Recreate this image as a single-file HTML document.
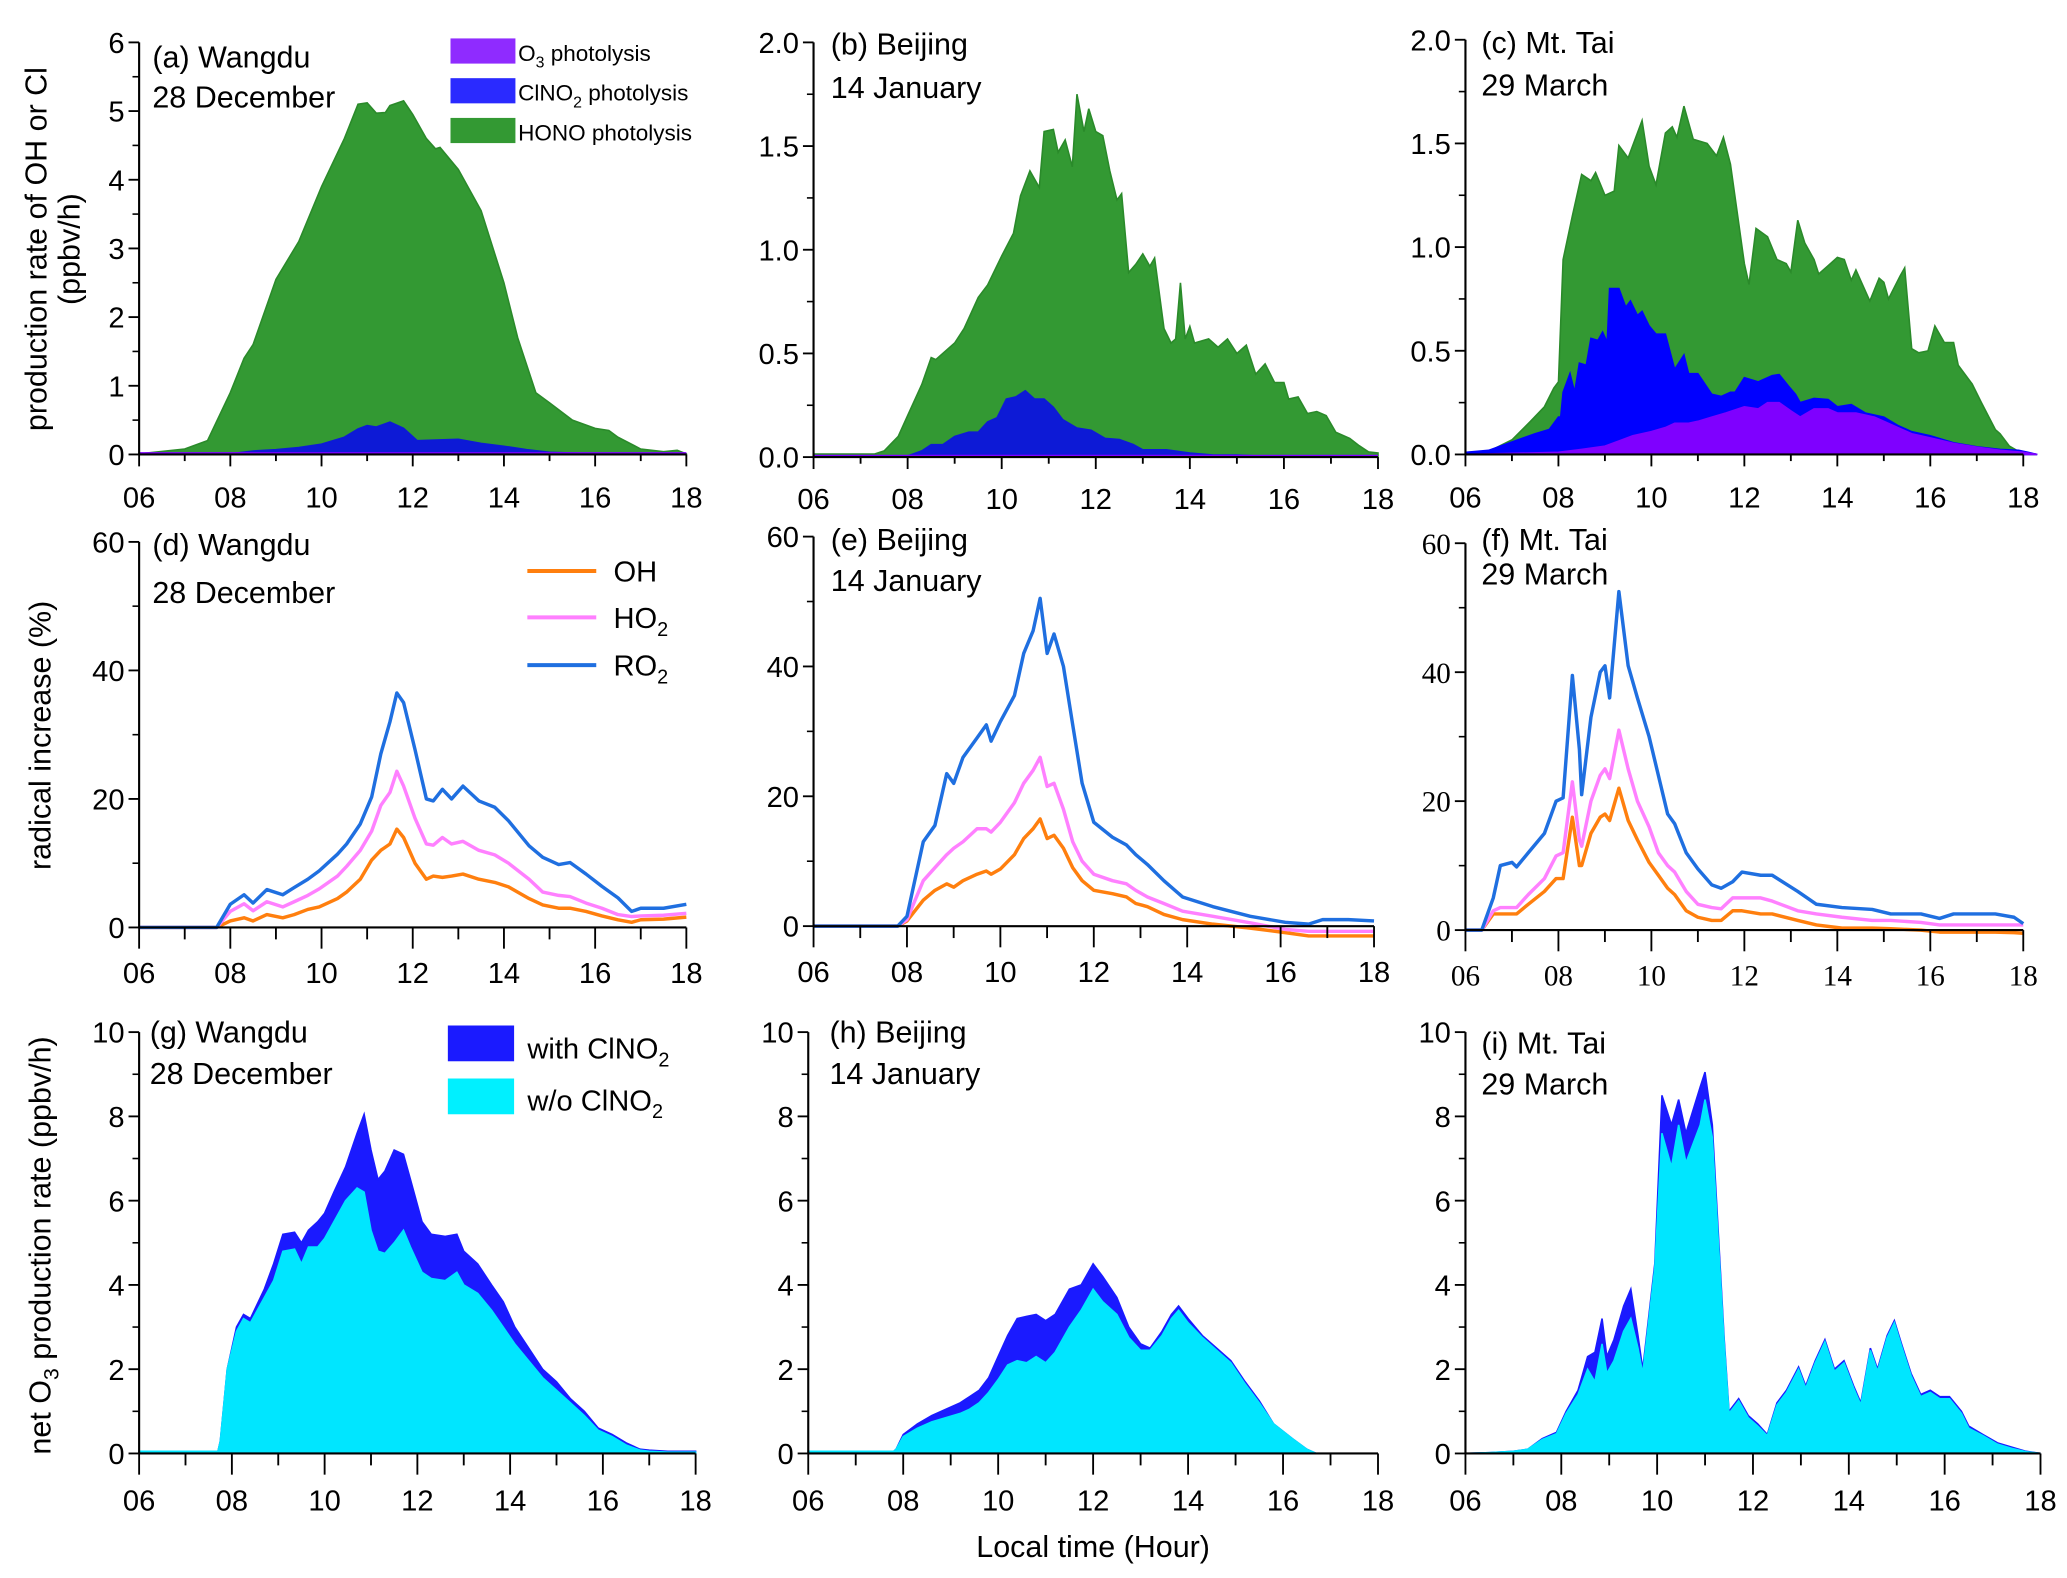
<!DOCTYPE html>
<html><head><meta charset="utf-8">
<style>
html,body{margin:0;padding:0;background:#fff;}
svg{display:block;}
text{font-family:"Liberation Sans",Arial,sans-serif;fill:#000;}
.serif{font-family:"Liberation Serif","Times New Roman",serif;}
</style></head>
<body>
<svg id="fig" width="2067" height="1578" viewBox="0 0 1560 1191" preserveAspectRatio="none" xmlns="http://www.w3.org/2000/svg">
<g id="root"></g>
</svg>
<script>
// ---------- data: panel (a) Wangdu ----------
const aHours = [6,7,7.5,8,8.3,8.5,9,9.5,10,10.5,10.8,11,11.2,11.4,11.5,11.8,12,12.3,12.5,12.6,13,13.5,14,14.3,14.7,15,15.5,16,16.3,16.5,17,17.5,17.8,18];
const aHono = [0.01,0.08,0.2,0.9,1.4,1.6,2.55,3.1,3.9,4.6,5.1,5.12,4.97,4.98,5.08,5.15,4.95,4.6,4.45,4.47,4.15,3.55,2.5,1.7,0.9,0.75,0.5,0.38,0.35,0.25,0.08,0.04,0.06,0.01];
const aClHours = [6,8,8.5,9,9.5,10,10.5,10.8,11,11.2,11.5,11.8,12.1,12.5,13,13.5,14,14.5,15,16,18];
const aClno2 = [0.01,0.01,0.05,0.07,0.1,0.15,0.25,0.37,0.42,0.4,0.47,0.38,0.2,0.21,0.22,0.16,0.12,0.07,0.03,0.01,0];
// ---------- panel (b) Beijing ----------
const bHours = [6,7.3,7.5,7.8,8,8.3,8.5,8.6,9,9.2,9.5,9.7,10,10.25,10.4,10.6,10.8,10.9,11.1,11.2,11.35,11.5,11.6,11.75,11.85,12,12.15,12.3,12.45,12.55,12.7,12.85,13,13.15,13.25,13.45,13.6,13.7,13.8,13.9,14,14.1,14.4,14.6,14.8,15,15.2,15.4,15.6,15.8,16,16.1,16.3,16.5,16.7,16.9,17.1,17.4,17.6,17.8,18];
const bHono = [0.015,0.015,0.03,0.1,0.2,0.35,0.48,0.47,0.55,0.62,0.77,0.83,0.97,1.08,1.26,1.38,1.30,1.57,1.58,1.47,1.53,1.40,1.75,1.57,1.68,1.57,1.55,1.38,1.24,1.27,0.89,0.93,0.98,0.92,0.96,0.62,0.55,0.57,0.84,0.57,0.63,0.55,0.57,0.53,0.57,0.5,0.54,0.40,0.45,0.36,0.36,0.28,0.29,0.21,0.22,0.20,0.12,0.09,0.055,0.025,0.02];
const bClHours = [6,8,8.3,8.5,8.75,9,9.3,9.5,9.7,9.9,10.1,10.3,10.5,10.7,10.9,11.1,11.3,11.6,11.9,12.2,12.5,12.8,13,13.5,14,14.5,15,16,18];
const bClno2 = [0,0.005,0.03,0.06,0.06,0.1,0.12,0.12,0.17,0.19,0.28,0.29,0.32,0.28,0.28,0.24,0.18,0.14,0.13,0.09,0.085,0.06,0.035,0.035,0.02,0.01,0.01,0,0];
// ---------- panel (c) Mt. Tai ----------
const cHours = [6,6.5,7,7.4,7.7,7.9,8,8.1,8.3,8.5,8.7,8.8,9,9.2,9.3,9.5,9.7,9.8,9.95,10.1,10.3,10.45,10.55,10.7,10.9,11.2,11.4,11.55,11.7,12,12.1,12.25,12.5,12.7,12.9,13,13.15,13.3,13.5,13.6,13.8,14,14.15,14.3,14.4,14.7,14.9,15,15.1,15.35,15.45,15.6,15.75,15.95,16.1,16.3,16.5,16.6,16.9,17.1,17.4,17.5,17.7,17.9,18,18.3];
const cHono = [0.01,0.015,0.07,0.16,0.23,0.32,0.35,0.94,1.15,1.35,1.32,1.36,1.25,1.27,1.49,1.43,1.55,1.61,1.39,1.30,1.55,1.58,1.53,1.68,1.52,1.50,1.44,1.53,1.40,0.92,0.82,1.09,1.05,0.94,0.92,0.88,1.13,1.02,0.94,0.87,0.91,0.95,0.94,0.84,0.89,0.74,0.85,0.83,0.75,0.86,0.90,0.51,0.49,0.50,0.62,0.54,0.54,0.43,0.34,0.25,0.12,0.10,0.04,0.015,0.01,0];
const cClHours = [6,6.5,7,7.5,7.8,8,8.05,8.1,8.25,8.35,8.45,8.6,8.7,8.85,8.95,9.05,9.1,9.3,9.45,9.55,9.7,9.8,9.95,10.1,10.3,10.5,10.7,10.8,11,11.3,11.5,11.7,11.8,12,12.3,12.6,12.75,12.95,13.1,13.2,13.5,13.8,14,14.3,14.6,15,15.3,15.6,16,16.5,17,17.5,17.9,18.1,18.3];
const cClno2 = [0.01,0.02,0.06,0.1,0.12,0.18,0.18,0.3,0.39,0.3,0.44,0.43,0.56,0.55,0.59,0.54,0.80,0.80,0.71,0.74,0.67,0.69,0.62,0.58,0.58,0.41,0.48,0.39,0.39,0.29,0.28,0.30,0.30,0.37,0.35,0.38,0.385,0.33,0.29,0.25,0.27,0.265,0.23,0.24,0.2,0.18,0.14,0.11,0.09,0.056,0.037,0.024,0.02,0.01,0];
const cO3Hours = [6,8,8.5,9,9.3,9.6,10,10.3,10.5,10.8,11,11.3,11.6,12,12.3,12.5,12.75,13,13.2,13.5,13.8,14,14.4,14.8,15.2,15.6,16,16.5,17,17.5,18,18.3];
const cO3 = [0,0.01,0.024,0.04,0.065,0.09,0.11,0.13,0.15,0.15,0.16,0.18,0.2,0.23,0.22,0.25,0.25,0.21,0.18,0.22,0.22,0.2,0.2,0.18,0.14,0.10,0.08,0.053,0.035,0.02,0.01,0];
// ---------- panel (d) Wangdu radicals ----------
const dHours = [6,7.7,8,8.3,8.5,8.8,9.15,9.4,9.7,9.95,10.35,10.55,10.85,11.1,11.3,11.5,11.65,11.8,12.05,12.3,12.45,12.65,12.85,13.1,13.45,13.8,14.1,14.55,14.85,15.2,15.45,15.8,16.15,16.5,16.8,17,17.5,18];
const dRO2 = [0,0,3.6,5.1,3.8,5.9,5.1,6.2,7.5,8.8,11.4,13,16.1,20.3,27,32,36.5,35,27.7,20,19.7,21.5,20,22,19.7,18.7,16.6,12.7,10.9,9.8,10.1,8.3,6.4,4.6,2.5,3.0,3.0,3.6];
const dHO2 = [0,0,2.5,3.7,2.6,4,3.2,4,5,6,8,9.5,12,15,19,21,24.3,22,17,13,12.8,14,13,13.4,12,11.3,10,7.5,5.5,5,4.8,3.8,3,2,1.7,1.8,1.9,2.2];
const dOH = [0,0,1,1.5,1,2,1.5,2,2.8,3.2,4.5,5.5,7.5,10.5,12,13,15.3,14,10,7.5,8,7.8,8,8.3,7.5,7,6.3,4.5,3.5,3,3,2.5,1.8,1.2,0.8,1.2,1.3,1.6];
// ---------- panel (e) Beijing radicals ----------
const eHours = [6,7.8,8,8.35,8.6,8.85,9,9.2,9.5,9.7,9.8,10,10.3,10.5,10.7,10.85,11,11.15,11.35,11.55,11.75,12,12.4,12.7,12.9,13.15,13.5,13.9,14.55,15.35,16.1,16.6,16.9,17.45,18];
const eRO2 = [0,0,1.5,13,15.5,23.5,22,26,29,31,28.5,31.5,35.5,42,45.5,50.5,42,45,40,31,22,16,13.7,12.5,11,9.5,7,4.5,3,1.5,0.6,0.3,1,1,0.8];
const eHO2 = [0,0,1,7,9,11,12,13,15,15,14.5,16,19,22,24,26,21.5,22,18,13,10,8,7,6.5,5.5,4.5,3.5,2.3,1.5,0.5,-0.5,-0.8,-0.8,-0.8,-0.8];
const eOH = [0,0,0.8,4,5.5,6.5,6,7,8,8.5,8,8.8,11,13.5,15,16.5,13.5,14,12,9,7,5.5,5,4.5,3.5,3,1.8,1,0.3,-0.3,-1,-1.5,-1.5,-1.5,-1.5];
// ---------- panel (f) Mt. Tai radicals ----------
const fHours = [6,6.35,6.6,6.75,7,7.1,7.35,7.7,7.95,8.1,8.3,8.45,8.5,8.7,8.9,9,9.1,9.3,9.5,9.7,9.95,10.15,10.35,10.5,10.75,11,11.3,11.5,11.75,11.95,12.35,12.6,13.15,13.55,14.1,14.75,15.15,15.8,16.2,16.5,17.4,17.8,18];
const fRO2 = [0,0,5,10,10.5,9.8,12,15,20,20.5,39.5,28,21,33,40,41,36,52.5,41,36,30,24,18,16.5,12,9.5,7,6.5,7.5,9,8.5,8.5,6,4,3.5,3.2,2.5,2.5,1.8,2.5,2.5,2,1];
const fHO2 = [0,0,3,3.5,3.5,3.5,5.5,8,11.5,12,23,14,13,20,24,25,23.5,31,25,20,16,12,10,9,6,4,3.5,3.3,5,5,5,4.5,3,2.5,2,1.5,1.5,1.2,0.8,0.8,0.8,0.8,0.8];
const fOH = [0,0,2.5,2.5,2.5,2.5,4,6,8,8,17.5,10,10,15,17.5,18,17,22,17,14,10.5,8.5,6.5,5.5,3,2,1.5,1.5,3,3,2.5,2.5,1.5,0.8,0.3,0.3,0.2,0,-0.3,-0.3,-0.3,-0.4,-0.5];
// ---------- panel (g) Wangdu net O3 ----------
const gHours = [6,7.7,7.75,7.9,8.1,8.25,8.4,8.7,8.9,9.1,9.35,9.5,9.65,9.85,10,10.2,10.45,10.7,10.85,11,11.15,11.3,11.5,11.7,11.85,12.1,12.3,12.6,12.85,13,13.3,13.6,13.85,14.1,14.4,14.7,15,15.3,15.6,15.9,16.2,16.5,16.8,17,17.4,18];
const gWith = [0.05,0.05,0.3,2.0,3.0,3.3,3.2,3.9,4.5,5.2,5.25,5.0,5.3,5.5,5.7,6.2,6.8,7.6,8.05,7.2,6.5,6.7,7.2,7.1,6.5,5.5,5.2,5.15,5.2,4.8,4.5,4.0,3.6,3.0,2.5,2.0,1.7,1.3,1.0,0.6,0.45,0.25,0.1,0.08,0.05,0.05];
const gWithout = [0.05,0.05,0.3,2.0,2.9,3.2,3.1,3.7,4.1,4.8,4.85,4.5,4.9,4.9,5.1,5.5,6.0,6.3,6.2,5.3,4.8,4.75,5.0,5.3,4.9,4.3,4.15,4.1,4.3,4.0,3.8,3.4,3.0,2.6,2.2,1.8,1.5,1.2,0.9,0.55,0.4,0.2,0.08,0.05,0.03,0.03];
// ---------- panel (h) Beijing net O3 ----------
const hHours = [6,7.8,7.85,8,8.3,8.6,8.9,9.2,9.4,9.6,9.8,10,10.2,10.4,10.6,10.8,11,11.2,11.5,11.75,12,12.2,12.5,12.75,13,13.2,13.45,13.65,13.8,14,14.3,14.6,14.9,15.2,15.5,15.8,16.2,16.5,16.7,17,18];
const hWith = [0.05,0.05,0.1,0.45,0.7,0.9,1.05,1.2,1.35,1.5,1.8,2.3,2.8,3.2,3.25,3.3,3.15,3.3,3.9,4.0,4.5,4.2,3.7,3.0,2.6,2.5,2.9,3.3,3.5,3.2,2.8,2.5,2.2,1.7,1.25,0.7,0.35,0.1,0,0,0];
const hWithout = [0.05,0.05,0.1,0.4,0.6,0.75,0.85,0.95,1.05,1.2,1.45,1.75,2.1,2.2,2.15,2.3,2.15,2.4,3.0,3.4,3.9,3.6,3.3,2.75,2.45,2.45,2.8,3.2,3.4,3.1,2.75,2.45,2.15,1.65,1.2,0.7,0.35,0.1,0,0,0];
// ---------- panel (i) Mt. Tai net O3 ----------
const iHours = [6,6.5,7,7.3,7.6,7.9,8.1,8.35,8.55,8.7,8.85,8.95,9.1,9.3,9.45,9.6,9.7,9.95,10.1,10.3,10.45,10.6,10.9,11,11.15,11.4,11.5,11.7,11.9,12.1,12.3,12.5,12.7,12.95,13.1,13.3,13.5,13.7,13.9,14.1,14.25,14.45,14.6,14.8,14.95,15.1,15.3,15.5,15.7,15.9,16.1,16.35,16.5,16.8,17.1,17.4,17.7,18];
const iWith = [0,0.02,0.05,0.1,0.35,0.5,1.0,1.5,2.3,2.4,3.2,2.3,2.7,3.5,3.9,2.8,2.0,4.5,8.5,7.8,8.4,7.6,8.7,9.05,7.8,2.7,1.0,1.3,0.9,0.7,0.45,1.2,1.5,2.05,1.6,2.2,2.7,2.0,2.2,1.6,1.2,2.5,2.0,2.8,3.15,2.6,1.9,1.4,1.5,1.35,1.35,1.0,0.65,0.45,0.25,0.15,0.05,0];
const iWithout = [0,0.02,0.05,0.1,0.33,0.47,0.95,1.4,2.0,1.7,2.6,1.9,2.2,2.9,3.2,2.5,1.9,4.4,7.6,6.8,7.8,6.9,7.8,8.4,7.5,2.6,0.95,1.25,0.85,0.65,0.42,1.15,1.45,2.0,1.55,2.15,2.65,1.95,2.15,1.55,1.15,2.45,1.95,2.75,3.1,2.55,1.85,1.35,1.45,1.3,1.3,0.95,0.6,0.42,0.22,0.12,0.04,0];
// ---------- axis tick labels ----------
const xTickLabels = ["06","08","10","12","14","16","18"];
const yTicksA = ["0","1","2","3","4","5","6"];
const yTicksBC = ["0.0","0.5","1.0","1.5","2.0"];
const yTicksRad = ["0","20","40","60"];
const yTicksO3 = ["0","2","4","6","8","10"];

const NS = "http://www.w3.org/2000/svg";
const root = document.getElementById('root');
function mk(tag, attrs, parent){
  const e = document.createElementNS(NS, tag);
  for (const k in attrs) e.setAttribute(k, attrs[k]);
  (parent||root).appendChild(e);
  return e;
}
function makeScales(p){
  p.sx = h => p.x0 + (h - 6) / 12 * (p.x1 - p.x0);
  p.sy = v => p.yb - v / p.ymax * (p.yb - p.yt);
}
function areaPath(p, hrs, vals){
  let d = "M" + p.sx(hrs[0]).toFixed(1) + "," + p.yb;
  for (let k=0;k<hrs.length;k++) d += " L" + p.sx(hrs[k]).toFixed(1) + "," + p.sy(vals[k]).toFixed(1);
  d += " L" + p.sx(hrs[hrs.length-1]).toFixed(1) + "," + p.yb + " Z";
  return d;
}
function linePath(p, hrs, vals){
  let d = "";
  for (let k=0;k<hrs.length;k++) d += (k?" L":"M") + p.sx(hrs[k]).toFixed(1) + "," + p.sy(vals[k]).toFixed(1);
  return d;
}
function drawAxes(p, g){
  const labs = p.labels, n = labs.length;
  const serifCls = p.serif ? "serif" : "";
  const ybot = p.yb + p.below;
  // y axis line
  const ya = mk('line',{x1:p.x0,y1:p.yt,x2:p.x0,y2:ybot,stroke:'#000','stroke-width':1.6},g);
  
  
  // x axis line
  const xa = mk('line',{x1:p.x0,y1:p.yb,x2:p.x1,y2:p.yb,stroke:'#000','stroke-width':1.6},g);
  
  
  // y ticks
  for (let k=0;k<n;k++){
    const y = p.yb - k/(n-1)*(p.yb-p.yt);
    const t = mk('line',{x1:p.x0-8,y1:y,x2:p.x0,y2:y,stroke:'#000','stroke-width':1.4},g);
    
    
    const tx = mk('text',{x:p.x0-11,y:y+8,'font-size':22,'text-anchor':'end',class:serifCls},g);
    tx.textContent = labs[k];
    
    
    if (k<n-1){
      const ym = y - 0.5/(n-1)*(p.yb-p.yt);
      const m = mk('line',{x1:p.x0-5,y1:ym,x2:p.x0,y2:ym,stroke:'#000','stroke-width':1.2},g);
      
      
    }
  }
  // x ticks
  for (let h=6; h<=18; h++){
    const x = p.sx(h);
    const major = (h%2===0);
    const len = major ? p.tickMaj : p.tickMin;
    const t = mk('line',{x1:x,y1:p.yb,x2:x,y2:p.yb+len,stroke:'#000','stroke-width':1.4},g);
    
    
  }
  for (let k=0;k<xTickLabels.length;k++){
    const h = 6 + 2*k;
    const tx = mk('text',{x:p.sx(h),y:p.labY,'font-size':22,'text-anchor':'middle',class:serifCls},g);
    tx.textContent = xTickLabels[k];
    
    
  }
}
function title(g, x, y1, y2, l1, l2){
  const t1 = mk('text',{x:x,y:y1,'font-size':23},g);
  t1.textContent = l1;
  
  
  const t2 = mk('text',{x:x,y:y2,'font-size':23},g);
  t2.textContent = l2;
  
  
}
const GREEN='#339933', CLBLUE='#0d1ad6', CBLUE='#0000ff', PURPLE='#7f00ff', DARKB='#1a1aff', CYAN='#00e6ff';
const OHC='#ff7f0e', HO2C='#ff80ff', RO2C='#1f6fe0';

function panel(cfg, name){
  const g = mk('g',{});
  
  
  makeScales(cfg);
  return g;
}
function area(p,g,hrs,vals,fill,stroke,name){
  const a = mk('path',{d:areaPath(p,hrs,vals),fill:fill,stroke:stroke,'stroke-width':1.2},g);
  
  
}
function line(p,g,hrs,vals,color,name){
  const a = mk('path',{d:linePath(p,hrs,vals),fill:'none',stroke:color,'stroke-width':2.6,'stroke-linejoin':'round'},g);
  
  
}

// Row 1
const pa = {x0:105,x1:518,yb:343,yt:32,ymax:6,labels:yTicksA,below:0,tickMaj:9,tickMin:5,labY:383};
let g = panel(pa,'panel-a-wangdu-production');
area(pa,g,aHours,aHono,GREEN,'#2a8a2a','area-hono-photolysis');
area(pa,g,aClHours,aClno2,CLBLUE,CLBLUE,'area-clno2-photolysis');
mk('line',{x1:pa.x0,y1:pa.yb-1,x2:pa.x1,y2:pa.yb-1,stroke:PURPLE,'stroke-width':1.5},g);
drawAxes(pa,g);
title(g,115,51,81,'(a) Wangdu','28 December');

const pb = {x0:614,x1:1040,yb:345,yt:32,ymax:2,labels:yTicksBC,below:0,tickMaj:9,tickMin:5,labY:384};
g = panel(pb,'panel-b-beijing-production');
area(pb,g,bHours,bHono,GREEN,'#2a8a2a','area-hono-photolysis');
area(pb,g,bClHours,bClno2,CLBLUE,CLBLUE,'area-clno2-photolysis');
mk('line',{x1:pb.x0,y1:pb.yb-1,x2:pb.x1,y2:pb.yb-1,stroke:PURPLE,'stroke-width':1.5},g);
drawAxes(pb,g);
title(g,627,41,74,'(b) Beijing','14 January');

const pc = {x0:1106,x1:1527,yb:343,yt:30,ymax:2,labels:yTicksBC,below:0,tickMaj:9,tickMin:5,labY:383};
g = panel(pc,'panel-c-mttai-production');
area(pc,g,cHours,cHono,GREEN,'#2a8a2a','area-hono-photolysis');
area(pc,g,cClHours,cClno2,CBLUE,CBLUE,'area-clno2-photolysis');
area(pc,g,cO3Hours,cO3,PURPLE,PURPLE,'area-o3-photolysis');
drawAxes(pc,g);
title(g,1118,40,72,'(c) Mt. Tai','29 March');

// Row 2
const pd = {x0:105,x1:518,yb:700,yt:409,ymax:60,labels:yTicksRad,below:0,tickMaj:16,tickMin:9,labY:742};
g = panel(pd,'panel-d-wangdu-radicals');
line(pd,g,dHours,dOH,OHC,'line-oh');
line(pd,g,dHours,dHO2,HO2C,'line-ho2');
line(pd,g,dHours,dRO2,RO2C,'line-ro2');
drawAxes(pd,g);
title(g,115,419,455,'(d) Wangdu','28 December');

const pe = {x0:614,x1:1037,yb:699,yt:405,ymax:60,labels:yTicksRad,below:0,tickMaj:16,tickMin:9,labY:741};
g = panel(pe,'panel-e-beijing-radicals');
line(pe,g,eHours,eOH,OHC,'line-oh');
line(pe,g,eHours,eHO2,HO2C,'line-ho2');
line(pe,g,eHours,eRO2,RO2C,'line-ro2');
drawAxes(pe,g);
title(g,627,415,446,'(e) Beijing','14 January');

const pf = {x0:1106,x1:1527,yb:702,yt:410,ymax:60,labels:yTicksRad,below:0,tickMaj:16,tickMin:9,labY:744,serif:true};
g = panel(pf,'panel-f-mttai-radicals');
line(pf,g,fHours,fOH,OHC,'line-oh');
line(pf,g,fHours,fHO2,HO2C,'line-ho2');
line(pf,g,fHours,fRO2,RO2C,'line-ro2');
drawAxes(pf,g);
title(g,1118,415,441,'(f) Mt. Tai','29 March');

// Row 3
const pg = {x0:105,x1:525,yb:1097,yt:779,ymax:10,labels:yTicksO3,below:0,tickMaj:16,tickMin:9,labY:1140};
g = panel(pg,'panel-g-wangdu-net-o3');
area(pg,g,gHours,gWith,DARKB,DARKB,'area-with-clno2');
area(pg,g,gHours,gWithout,CYAN,CYAN,'area-without-clno2');
drawAxes(pg,g);
title(g,113,787,818,'(g) Wangdu','28 December');

const ph = {x0:610,x1:1040,yb:1097,yt:779,ymax:10,labels:yTicksO3,below:0,tickMaj:16,tickMin:9,labY:1140};
g = panel(ph,'panel-h-beijing-net-o3');
area(ph,g,hHours,hWith,DARKB,DARKB,'area-with-clno2');
area(ph,g,hHours,hWithout,CYAN,CYAN,'area-without-clno2');
drawAxes(ph,g);
title(g,626,787,818,'(h) Beijing','14 January');

const pi = {x0:1106,x1:1540,yb:1097,yt:779,ymax:10,labels:yTicksO3,below:0,tickMaj:16,tickMin:9,labY:1140};
g = panel(pi,'panel-i-mttai-net-o3');
area(pi,g,iHours,iWith,DARKB,DARKB,'area-with-clno2');
area(pi,g,iHours,iWithout,CYAN,CYAN,'area-without-clno2');
drawAxes(pi,g);
title(g,1118,795,826,'(i) Mt. Tai','29 March');
</script>
<svg style="position:absolute;left:0;top:0;pointer-events:none" width="2067" height="1578" viewBox="0 0 1560 1191" preserveAspectRatio="none" xmlns="http://www.w3.org/2000/svg">
<g font-family="Liberation Sans, Arial, sans-serif">
  <!-- legend row 1 -->
  <g>
    <rect x="340" y="29" width="49" height="19" fill="#8f2bff"/>
    <text x="391" y="46" font-size="17">O<tspan font-size="12" dy="5">3</tspan><tspan dy="-5"> photolysis</tspan></text>
    <rect x="340" y="59" width="49" height="19" fill="#2a2aff"/>
    <text x="391" y="76" font-size="17">ClNO<tspan font-size="12" dy="5">2</tspan><tspan dy="-5"> photolysis</tspan></text>
    <rect x="340" y="89" width="49" height="19" fill="#339933"/>
    <text x="391" y="106" font-size="17">HONO photolysis</text>
  </g>
  <!-- legend row 2 -->
  <g>
    <line x1="398" y1="431" x2="450" y2="431" stroke="#ff7f0e" stroke-width="3"/>
    <text x="463" y="439" font-size="22">OH</text>
    <line x1="398" y1="466" x2="450" y2="466" stroke="#ff80ff" stroke-width="3"/>
    <text x="463" y="474" font-size="22">HO<tspan font-size="15" dy="6">2</tspan></text>
    <line x1="398" y1="502" x2="450" y2="502" stroke="#1f6fe0" stroke-width="3"/>
    <text x="463" y="510" font-size="22">RO<tspan font-size="15" dy="6">2</tspan></text>
  </g>
  <!-- legend row 3 -->
  <g>
    <rect x="338" y="774" width="50" height="27" fill="#1a1aff"/>
    <text x="398" y="799" font-size="22">with ClNO<tspan font-size="15" dy="6">2</tspan></text>
    <rect x="338" y="814" width="50" height="27" fill="#00f0ff"/>
    <text x="398" y="838" font-size="22">w/o ClNO<tspan font-size="15" dy="6">2</tspan></text>
  </g>
  <!-- axis titles -->
  <text transform="translate(35,188) rotate(-90)" font-size="23" text-anchor="middle">production rate of OH or Cl</text>
  <text transform="translate(60,188) rotate(-90)" font-size="23" text-anchor="middle">(ppbv/h)</text>
  <text transform="translate(38,555) rotate(-90)" font-size="23" text-anchor="middle">radical increase (%)</text>
  <text transform="translate(38,940) rotate(-90)" font-size="23" text-anchor="middle">net O<tspan font-size="16" dy="6">3</tspan><tspan dy="-6"> production rate (ppbv/h)</tspan></text>
  <text x="825" y="1175" font-size="23" text-anchor="middle">Local time (Hour)</text>
</g>
</svg>
</body></html>
